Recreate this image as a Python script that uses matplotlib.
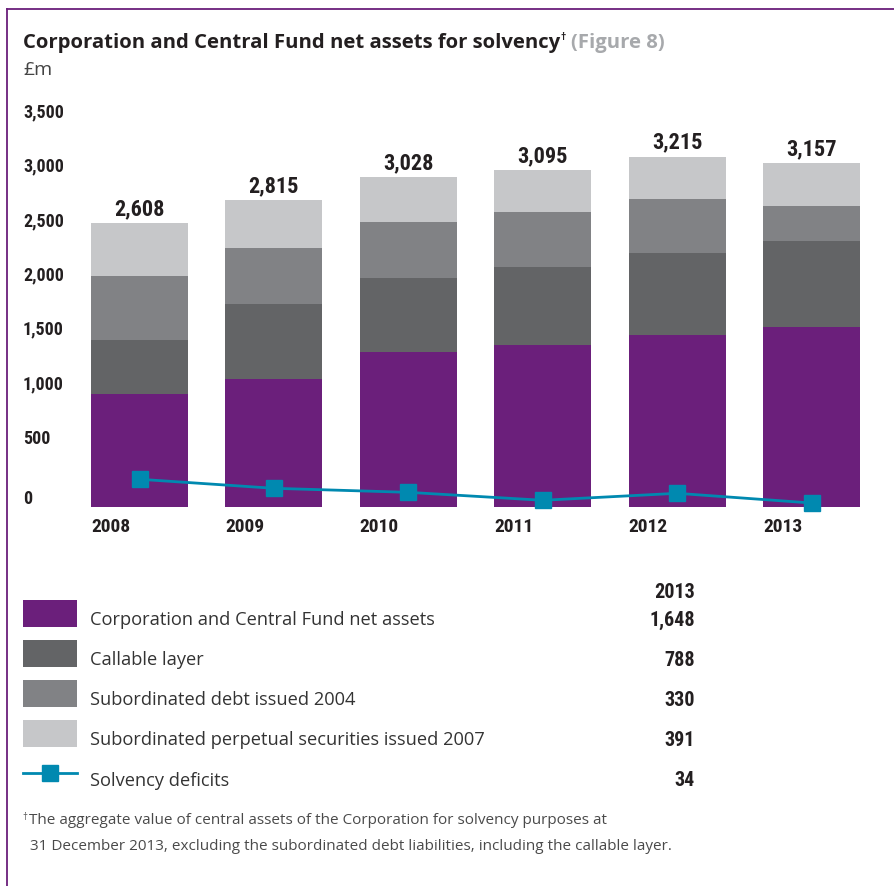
import matplotlib
matplotlib.use("Agg")
import matplotlib.pyplot as plt
from matplotlib import font_manager as fm
from matplotlib.patches import Rectangle
from matplotlib.lines import Line2D
from matplotlib.transforms import blended_transform_factory, ScaledTranslation
import numpy as np

# ---- data (£m) ----
years = ["2008", "2009", "2010", "2011", "2012", "2013"]
net_assets = [1035, 1173, 1424, 1485, 1580, 1648]
callable_layer = [496, 689, 677, 717, 750, 788]
sub_debt_2004 = [588, 514, 514, 505, 494, 330]
perpetual_2007 = [489, 439, 413, 388, 391, 391]
solvency_deficits = [252, 169, 132, 59, 123, 34]

y_ticks = [0, 500, 1000, 1500, 2000, 2500, 3000, 3500]

series_names = [
    "Corporation and Central Fund net assets",
    "Callable layer",
    "Subordinated debt issued 2004",
    "Subordinated perpetual securities issued 2007",
]
line_name = "Solvency deficits"

PURPLE = "#6B1F7B"
DARK = "#636466"
MID = "#818285"
LIGHT = "#C6C7C9"
TEAL = "#0089B0"
INK = "#231F20"
BODY = "#333333"


def pick(*names):
    for n in names:
        try:
            fm.findfont(fm.FontProperties(family=n), fallback_to_default=False)
            return n
        except Exception:
            pass
    return "DejaVu Sans"


NUM_FONT = pick("Liberation Sans Narrow", "Roboto Condensed", "DejaVu Sans")
TXT_FONT = pick("Open Sans", "Lato", "DejaVu Sans")
num_kw = dict(family=NUM_FONT, weight="bold", color=INK)
if NUM_FONT == "DejaVu Sans":
    num_kw["stretch"] = "condensed"

W, H = 894, 886
fig = plt.figure(figsize=(W / 100, H / 100), dpi=100)
fig.patch.set_facecolor("white")

# overlay in pixel units for frame, titles and legend block
pix = fig.add_axes([0, 0, 1, 1])
pix.set_xlim(0, W)
pix.set_ylim(H, 0)
pix.axis("off")

# main chart area
px_per_cat = 134.4
x0_px = 139.5 - 0.5 * px_per_cat
base_px = 506.7
y_top = 3600
px_per_unit = 0.10887
ax = fig.add_axes([x0_px / W, (H - base_px) / H,
                   6 * px_per_cat / W, y_top * px_per_unit / H])
ax.set_xlim(-0.5, 5.5)
ax.set_ylim(0, y_top)
ax.axis("off")

x = np.arange(len(years))
bw = 0.722
stack = [net_assets, callable_layer, sub_debt_2004, perpetual_2007]
colors = [PURPLE, DARK, MID, LIGHT]
bottom = np.zeros(len(years))
for vals, col in zip(stack, colors):
    ax.bar(x, vals, bw, bottom=bottom, color=col, edgecolor="none", zorder=2)
    bottom = bottom + np.array(vals)
totals = bottom

for xi, t in zip(x, totals):
    ax.annotate(f"{int(t):,}", (xi, t), xytext=(0, 10), textcoords="offset points",
                ha="center", va="center", fontsize=16, **num_kw)

ax.plot(x, solvency_deficits, color=TEAL, lw=2.0, marker="s", ms=12.2,
        mec=TEAL, mfc=TEAL, zorder=4, clip_on=False)

# y tick labels, left aligned, set just above their value
ytr = blended_transform_factory(pix.transData, ax.transData)
for v in y_ticks:
    dy = 7.7 if v == 0 else 13.6
    off = ScaledTranslation(0, dy / 100, fig.dpi_scale_trans)
    ax.text(23, v, f"{v:,}", transform=ytr + off, ha="left", va="center",
            fontsize=13, clip_on=False, **num_kw)

# year labels aligned to the left edge of each bar
xtr = blended_transform_factory(ax.transData, pix.transData)
for xi, yr in zip(x, years):
    ax.text(xi - bw / 2, 527, yr, transform=xtr, ha="left", va="center",
            fontsize=14, clip_on=False, **num_kw)

# frame
pix.add_line(Line2D([7, 7], [9, H], color=PURPLE, lw=1.3))
pix.add_line(Line2D([7, W], [9, 9], color=PURPLE, lw=1.3))

# title
title = pix.text(23, 43, "Corporation and Central Fund net assets for solvency",
                 family=TXT_FONT, weight="bold", fontsize=14.6, color=INK,
                 ha="left", va="center")
fig.canvas.draw()
r = fig.canvas.get_renderer()
bb = title.get_window_extent(r)
xr = bb.x1
pix.text(xr, 37, "\u2020", family=TXT_FONT, weight="bold", fontsize=7.5, color=INK,
         ha="left", va="center")
pix.text(xr + 11, 43, "(Figure 8)", family=TXT_FONT, weight="bold", fontsize=14.6,
         color="#A7A9AC", ha="left", va="center")
pix.text(23, 70, "£m", family=TXT_FONT, fontsize=14, color="#444444",
         ha="left", va="center")

# legend block with 2013 values
pix.text(695, 593, years[-1], ha="right", va="center", fontsize=14.5, **num_kw)
rows_y = [613, 653, 693, 733]
for yy, col, name, vals in zip(rows_y, colors, series_names, stack):
    pix.add_patch(Rectangle((23, yy - 13.5), 54, 27, color=col, lw=0))
    pix.text(90, yy + 7, name, family=TXT_FONT, fontsize=13.15, color=BODY,
             ha="left", va="center")
    pix.text(695, yy + 7, f"{vals[-1]:,}", ha="right", va="center",
             fontsize=14.5, **num_kw)
ly = 773
pix.add_line(Line2D([23, 77], [ly, ly], color=TEAL, lw=2.0))
pix.add_line(Line2D([50], [ly], color=TEAL, marker="s", ms=12.2, lw=0))
pix.text(90, ly + 8, line_name, family=TXT_FONT, fontsize=13.15, color=BODY,
         ha="left", va="center")
pix.text(695, ly + 7, f"{solvency_deficits[-1]:,}", ha="right", va="center",
         fontsize=14.5, **num_kw)

# footnote
pix.text(22, 818, "\u2020", family=TXT_FONT, fontsize=7, color="#4A4A4A",
         ha="left", va="center")
pix.text(29, 821, "The aggregate value of central assets of the Corporation for solvency purposes at",
         family=TXT_FONT, fontsize=11.0, color="#4A4A4A", ha="left", va="center")
pix.text(30, 847, "31 December 2013, excluding the subordinated debt liabilities, including the callable layer.",
         family=TXT_FONT, fontsize=11.0, color="#4A4A4A", ha="left", va="center")

fig.savefig("out.png", dpi=100)
